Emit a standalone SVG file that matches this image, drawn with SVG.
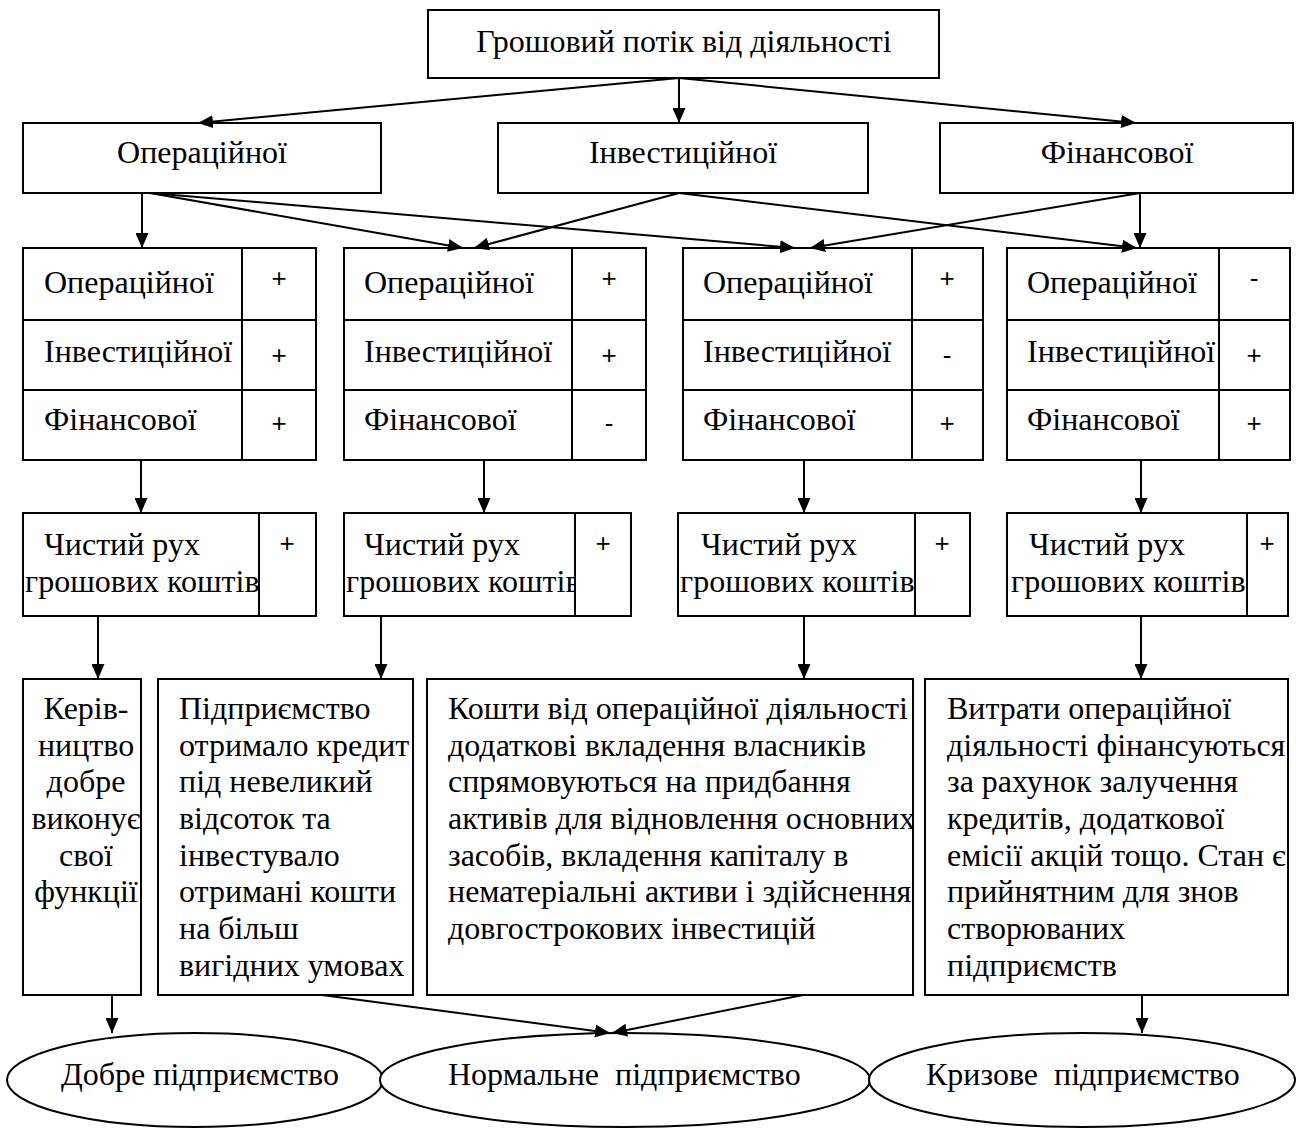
<svg xmlns="http://www.w3.org/2000/svg" width="1296" height="1130" viewBox="0 0 1296 1130">
<style>
.box{fill:#fff;stroke:#000;stroke-width:2}
.ln{stroke:#000;stroke-width:2;fill:none}
.t{font-family:"Liberation Serif","Times New Roman",serif;font-size:32px;fill:#000}
.m{text-anchor:middle}
.s{font-family:"Liberation Sans",Arial,sans-serif;font-size:26px;fill:#000;text-anchor:middle}
.c{stroke:#000;stroke-width:2;fill:none;marker-end:url(#ah)}
</style>
<defs>
<marker id="ah" markerWidth="15" markerHeight="13" refX="15" refY="6.5" orient="auto" markerUnits="userSpaceOnUse"><path d="M0,0L15,6.5L0,13z" fill="#000"/></marker>
<clipPath id="cA"><rect x="23" y="679" width="118" height="316"/></clipPath>
<clipPath id="cC"><rect x="427" y="679" width="486" height="316"/></clipPath>
<clipPath id="cD"><rect x="925" y="679" width="363" height="316"/></clipPath>
</defs>
<rect width="1296" height="1130" fill="#fff"/>

<g id="root">
<rect class="box" x="428" y="10" width="511" height="68"/>
<text class="t m" x="684" y="52">Грошовий потік від діяльності</text>
</g>

<g id="op">
<rect class="box" x="23" y="123" width="358" height="70"/>
<text class="t m" x="202" y="163">Операційної</text>
</g>
<g id="inv">
<rect class="box" x="498" y="123" width="370" height="70"/>
<text class="t m" x="683" y="163">Інвестиційної</text>
</g>
<g id="fin">
<rect class="box" x="940" y="123" width="353" height="70"/>
<text class="t m" x="1117" y="163">Фінансової</text>
</g>

<g id="table1">
<rect class="box" x="23" y="248" width="293" height="212"/>
<path class="ln" d="M23,320H316M23,390H316M242,248V460"/>
<text class="t" x="44" y="293">Операційної</text>
<text class="t" x="44" y="362">Інвестиційної</text>
<text class="t" x="44" y="430">Фінансової</text>
<text class="s" x="279" y="287">+</text>
<text class="s" x="279" y="364">+</text>
<text class="s" x="279" y="432">+</text>
</g>
<g id="table2">
<rect class="box" x="344" y="248" width="302" height="212"/>
<path class="ln" d="M344,320H646M344,390H646M572,248V460"/>
<text class="t" x="364" y="293">Операційної</text>
<text class="t" x="364" y="362">Інвестиційної</text>
<text class="t" x="364" y="430">Фінансової</text>
<text class="s" x="609" y="287">+</text>
<text class="s" x="609" y="364">+</text>
<text class="s" x="609" y="432">-</text>
</g>
<g id="table3">
<rect class="box" x="683" y="248" width="300" height="212"/>
<path class="ln" d="M683,320H983M683,390H983M912,248V460"/>
<text class="t" x="703" y="293">Операційної</text>
<text class="t" x="703" y="362">Інвестиційної</text>
<text class="t" x="703" y="430">Фінансової</text>
<text class="s" x="947" y="287">+</text>
<text class="s" x="947" y="364">-</text>
<text class="s" x="947" y="432">+</text>
</g>
<g id="table4">
<rect class="box" x="1007" y="248" width="283" height="212"/>
<path class="ln" d="M1007,320H1290M1007,390H1290M1219,248V460"/>
<text class="t" x="1027" y="293">Операційної</text>
<text class="t" x="1027" y="362">Інвестиційної</text>
<text class="t" x="1027" y="430">Фінансової</text>
<text class="s" x="1254" y="287">-</text>
<text class="s" x="1254" y="364">+</text>
<text class="s" x="1254" y="432">+</text>
</g>

<g id="net1">
<rect class="box" x="23" y="513" width="293" height="103"/>
<text class="t" x="44" y="555">Чистий рух</text>
<text class="t" x="25" y="592">грошових коштів</text>
<rect class="box" x="259" y="513" width="57" height="103"/>
<text class="s" x="287" y="552">+</text>
</g>
<g id="net2">
<rect class="box" x="344" y="513" width="287" height="103"/>
<text class="t" x="364" y="555">Чистий рух</text>
<text class="t" x="346" y="592">грошових коштів</text>
<rect class="box" x="575" y="513" width="56" height="103"/>
<text class="s" x="603" y="552">+</text>
</g>
<g id="net3">
<rect class="box" x="678" y="513" width="292" height="103"/>
<text class="t" x="701" y="555">Чистий рух</text>
<text class="t" x="680" y="592">грошових коштів</text>
<rect class="box" x="915" y="513" width="55" height="103"/>
<text class="s" x="942" y="552">+</text>
</g>
<g id="net4">
<rect class="box" x="1007" y="513" width="281" height="103"/>
<text class="t" x="1029" y="555">Чистий рух</text>
<text class="t" x="1011" y="592">грошових коштів</text>
<rect class="box" x="1247" y="513" width="41" height="103"/>
<text class="s" x="1267" y="552">+</text>
</g>

<g id="descA">
<rect class="box" x="23" y="679" width="118" height="316"/>
<g clip-path="url(#cA)">
<text class="t m" x="86" y="719">Керів-</text>
<text class="t m" x="86" y="756">ництво</text>
<text class="t m" x="86" y="792">добре</text>
<text class="t m" x="86" y="829">виконує</text>
<text class="t m" x="86" y="866">свої</text>
<text class="t m" x="86" y="902">функції</text>
</g>
</g>
<g id="descB">
<rect class="box" x="158" y="679" width="255" height="316"/>
<text class="t" x="179" y="719">Підприємство</text>
<text class="t" x="179" y="756">отримало кредит</text>
<text class="t" x="179" y="792">під невеликий</text>
<text class="t" x="179" y="829">відсоток та</text>
<text class="t" x="179" y="866">інвестувало</text>
<text class="t" x="179" y="902">отримані кошти</text>
<text class="t" x="179" y="939">на більш</text>
<text class="t" x="179" y="976">вигідних умовах</text>
</g>
<g id="descC">
<rect class="box" x="427" y="679" width="486" height="316"/>
<g clip-path="url(#cC)">
<text class="t" x="448" y="719">Кошти від операційної діяльності</text>
<text class="t" x="448" y="756">додаткові вкладення власників</text>
<text class="t" x="448" y="792">спрямовуються на придбання</text>
<text class="t" x="448" y="829">активів для відновлення основних</text>
<text class="t" x="448" y="866">засобів, вкладення капіталу в</text>
<text class="t" x="448" y="902">нематеріальні активи і здійснення</text>
<text class="t" x="448" y="939">довгострокових інвестицій</text>
</g>
</g>
<g id="descD">
<rect class="box" x="925" y="679" width="363" height="316"/>
<g clip-path="url(#cD)">
<text class="t" x="947" y="719">Витрати операційної</text>
<text class="t" x="947" y="756">діяльності фінансуються</text>
<text class="t" x="947" y="792">за рахунок залучення</text>
<text class="t" x="947" y="829">кредитів, додаткової</text>
<text class="t" x="947" y="866">емісії акцій тощо. Стан є</text>
<text class="t" x="947" y="902">прийнятним для знов</text>
<text class="t" x="947" y="939">створюваних</text>
<text class="t" x="947" y="976">підприємств</text>
</g>
</g>

<g id="good">
<ellipse class="box" cx="195" cy="1080" rx="188" ry="47"/>
<text class="t" x="61" y="1085">Добре підприємство</text>
</g>
<g id="normal">
<ellipse class="box" cx="625" cy="1080" rx="245" ry="47"/>
<text class="t" x="448" y="1085" xml:space="preserve">Нормальне  підприємство</text>
</g>
<g id="crisis">
<ellipse class="box" cx="1082" cy="1080" rx="213" ry="47"/>
<text class="t" x="926" y="1085" xml:space="preserve">Кризове  підприємство</text>
</g>

<g id="connectors">
<path class="c" d="M679,78L198,123"/>
<path class="c" d="M679,78L679,123"/>
<path class="c" d="M679,78L1136,123"/>
<path class="c" d="M142,193L142,248"/>
<path class="c" d="M150,193L463,248"/>
<path class="c" d="M150,193L795,248"/>
<path class="c" d="M679,193L474,248"/>
<path class="c" d="M679,193L1137,248"/>
<path class="c" d="M1140,193L810,248"/>
<path class="c" d="M1140,193L1140,248"/>
<path class="c" d="M141,460L141,513"/>
<path class="c" d="M484,460L484,513"/>
<path class="c" d="M804,460L804,513"/>
<path class="c" d="M1141,460L1141,513"/>
<path class="c" d="M98,616L98,679"/>
<path class="c" d="M381,616L381,679"/>
<path class="c" d="M804,616L804,679"/>
<path class="c" d="M1141,616L1141,679"/>
<path class="c" d="M112,995L112,1033"/>
<path class="c" d="M322,995L610,1033"/>
<path class="c" d="M803,995L612,1033"/>
<path class="c" d="M1142,995L1142,1033"/>
</g>
</svg>
